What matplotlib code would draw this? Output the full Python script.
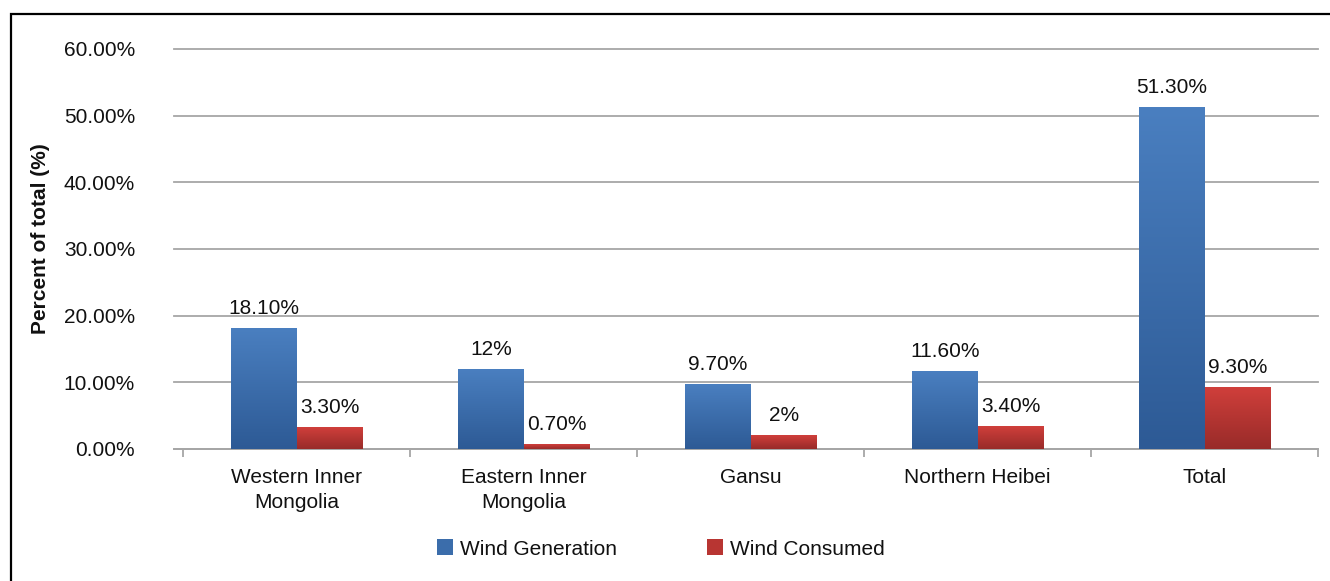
import matplotlib
matplotlib.use("Agg")
import matplotlib.pyplot as plt
import numpy as np
from matplotlib.patches import Patch, Rectangle
from matplotlib.colors import LinearSegmentedColormap
from matplotlib.ticker import FixedLocator, FuncFormatter

plt.rcParams['font.family'] = ['Liberation Sans', 'DejaVu Sans']

categories = ["Western Inner\nMongolia", "Eastern Inner\nMongolia", "Gansu", "Northern Heibei", "Total"]
wind_generation = [18.10, 12.0, 9.70, 11.60, 51.30]
wind_consumed = [3.30, 0.70, 2.0, 3.40, 9.30]
gen_labels = ["18.10%", "12%", "9.70%", "11.60%", "51.30%"]
con_labels = ["3.30%", "0.70%", "2%", "3.40%", "9.30%"]
series_names = ["Wind Generation", "Wind Consumed"]
yticks = [0, 10, 20, 30, 40, 50, 60]

W, H = 1330, 581
fig = plt.figure(figsize=(W / 100, H / 100), dpi=100)
fig.patch.set_facecolor("white")

# outer frame (clipped by image edges on right/bottom)
fig.patches.append(Rectangle((11 / W, -0.1), 1.2, 1 - 14 / H + 0.1, transform=fig.transFigure,
                             fill=False, edgecolor="black", linewidth=1.6))

ax = fig.add_axes([174 / W, (H - 449) / H, (1318 - 174) / W, 400 / H])

x = np.arange(len(categories))
bw = 0.29
blue_top, blue_bot = "#4a7fc0", "#2d5a95"
red_top, red_bot = "#d03f3b", "#982b29"

bars_g = ax.bar(x - bw / 2, wind_generation, bw, color="none", zorder=3)
bars_c = ax.bar(x + bw / 2, wind_consumed, bw, color="none", zorder=3)

def gradient_fill(bars, top, bot):
    cmap = LinearSegmentedColormap.from_list("g", [bot, top])
    grad = np.linspace(0, 1, 256).reshape(-1, 1)
    for b in bars:
        x0, y0 = b.get_x(), b.get_y()
        ax.imshow(grad, extent=(x0, x0 + b.get_width(), y0, y0 + b.get_height()),
                  origin="lower", aspect="auto", cmap=cmap, zorder=3, interpolation="bilinear")

gradient_fill(bars_g, blue_top, blue_bot)
gradient_fill(bars_c, red_top, red_bot)

ax.bar_label(bars_g, labels=gen_labels, padding=7.5, fontsize=15, color="#111111")
ax.bar_label(bars_c, labels=con_labels, padding=7.5, fontsize=15, color="#111111")

ax.set_xlim(-0.5 - 9.5 / 227, 4.5)
ax.set_ylim(0, 60)

ax.set_yticks(yticks)
ax.yaxis.set_major_formatter(FuncFormatter(lambda v, p: f"{v:.2f}%"))
ax.tick_params(axis="y", length=0, pad=28, labelsize=15, labelcolor="#111111")
ax.grid(axis="y", color="#a6a6a6", linewidth=1.3, zorder=0)
ax.set_axisbelow(True)
for gl in ax.get_ygridlines():
    gl.set_clip_on(False)

ax.set_xticks(x)
ax.set_xticklabels(categories, fontsize=15, color="#111111", linespacing=1.45)
ax.tick_params(axis="x", which="major", length=0, pad=13.5)
ax.xaxis.set_minor_locator(FixedLocator(np.arange(-0.5, 5.0, 1.0)))
ax.tick_params(axis="x", which="minor", length=6, width=1.3, color="#a6a6a6")

for s in ["top", "right", "left"]:
    ax.spines[s].set_visible(False)
ax.spines["bottom"].set_color("#a6a6a6")
ax.spines["bottom"].set_linewidth(1.3)

ax.set_ylabel("Percent of total (%)", fontsize=15, fontweight="bold", color="#111111")
ax.yaxis.set_label_coords(-(174 - 50) / (1318 - 174), 0.525)

handles = [Patch(facecolor="#3b6dab", edgecolor="none"), Patch(facecolor="#b83532", edgecolor="none")]
fig.legend(handles, series_names, loc="center", bbox_to_anchor=(661 / W, 1 - 549 / H),
           ncol=2, frameon=False, fontsize=15, handlelength=0.78, handleheight=0.78,
           handletextpad=0.35, columnspacing=4.3, labelcolor="#111111")

fig.savefig("out.png", dpi=100, facecolor="white")
